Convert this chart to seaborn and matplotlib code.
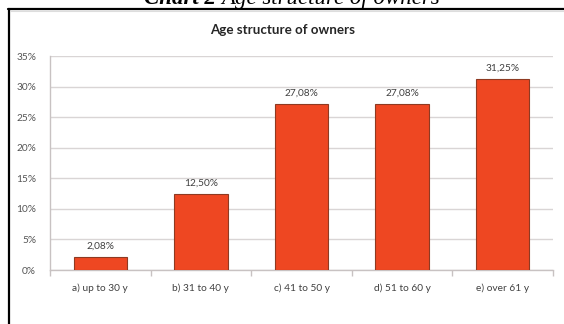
import matplotlib
matplotlib.use("Agg")
import matplotlib.pyplot as plt
from matplotlib.lines import Line2D
import seaborn as sns
import pandas as pd
import numpy as np

categories = ["a) up to 30 y", "b) 31 to 40 y", "c) 41 to 50 y", "d) 51 to 60 y", "e) over 61 y"]
shares = [2.08, 12.50, 27.08, 27.08, 31.25]
value_labels = ["2,08%", "12,50%", "27,08%", "27,08%", "31,25%"]
y_ticks = [0, 5, 10, 15, 20, 25, 30, 35]
y_tick_labels = ["0%", "5%", "10%", "15%", "20%", "25%", "30%", "35%"]

sns.set_theme(style="white")
plt.rcParams["font.family"] = ["Lato", "DejaVu Sans"]

df = pd.DataFrame({"group": categories, "share": shares})

W, H = 564, 324
fig = plt.figure(figsize=(W / 100, H / 100), dpi=100)
fig.patch.set_facecolor("white")

ax = fig.add_axes([50 / W, 54 / H, 503 / W, 214 / H])
sns.barplot(data=df, x="group", y="share", color="#EE4722", width=0.53,
            edgecolor="#8E3A22", linewidth=0.8, saturation=1, ax=ax, zorder=3)

ax.set_ylim(0, 35)
ax.set_xlim(-0.5, len(categories) - 0.5)
ax.set_yticks(y_ticks)
ax.set_yticklabels(y_tick_labels)
ax.set_xlabel("")
ax.set_ylabel("")
ax.yaxis.grid(True, color="#D9D5D5", linewidth=1.0, zorder=0)
ax.set_axisbelow(True)

for side in ["top", "right"]:
    ax.spines[side].set_visible(False)
for side in ["left", "bottom"]:
    ax.spines[side].set_color("#C8C2C2")
    ax.spines[side].set_linewidth(1.0)

ax.tick_params(axis="y", which="major", length=4, width=1, color="#C8C2C2",
               labelsize=7.3, labelcolor="#555555", pad=6)
ax.tick_params(axis="x", which="major", length=0, labelsize=7.3,
               labelcolor="#404040", pad=10)
ax.set_xticks(np.arange(-0.5, len(categories)), minor=True)
ax.tick_params(axis="x", which="minor", length=4, width=1, color="#C8C2C2", bottom=True)

for i, (v, lab) in enumerate(zip(shares, value_labels)):
    ax.annotate(lab, (i, v), xytext=(0, 4.5), textcoords="offset points",
                ha="center", va="bottom", fontsize=7.3, color="#404040")

fig.text(283 / W, 1 - 30 / H, "Age structure of owners", ha="center", va="center",
         fontsize=9.6, fontweight="bold", color="#262626")

# caption above the frame, bold label followed by italic title
cap_y = 1 - 4 / H
t1 = fig.text(0, cap_y, "Chart 2 ", fontsize=16.5, fontstyle="italic", fontweight="bold",
              family="Liberation Serif", va="baseline", color="black")
t2 = fig.text(0, cap_y, "Age structure of owners", fontsize=16.5, fontstyle="italic",
              family="Liberation Serif", va="baseline", color="black")
fig.canvas.draw()
r = fig.canvas.get_renderer()
w1 = t1.get_window_extent(r).width
w2 = t2.get_window_extent(r).width
x0 = 292 - (w1 + w2) / 2
t1.set_x(x0 / W)
t2.set_x((x0 + w1) / W)

# frame lines
fig.add_artist(Line2D([8 / W, 1], [1 - 8.5 / H, 1 - 8.5 / H], color="black", linewidth=1.6,
                      transform=fig.transFigure))
fig.add_artist(Line2D([9 / W, 9 / W], [0, 1 - 8.5 / H], color="black", linewidth=1.6,
                      transform=fig.transFigure))
fig.add_artist(Line2D([10 / W, 1], [1 - 11 / H, 1 - 11 / H], color="#DDDDDD",
                      linewidth=0.8, transform=fig.transFigure))

fig.savefig("out.png", dpi=100, facecolor="white")
